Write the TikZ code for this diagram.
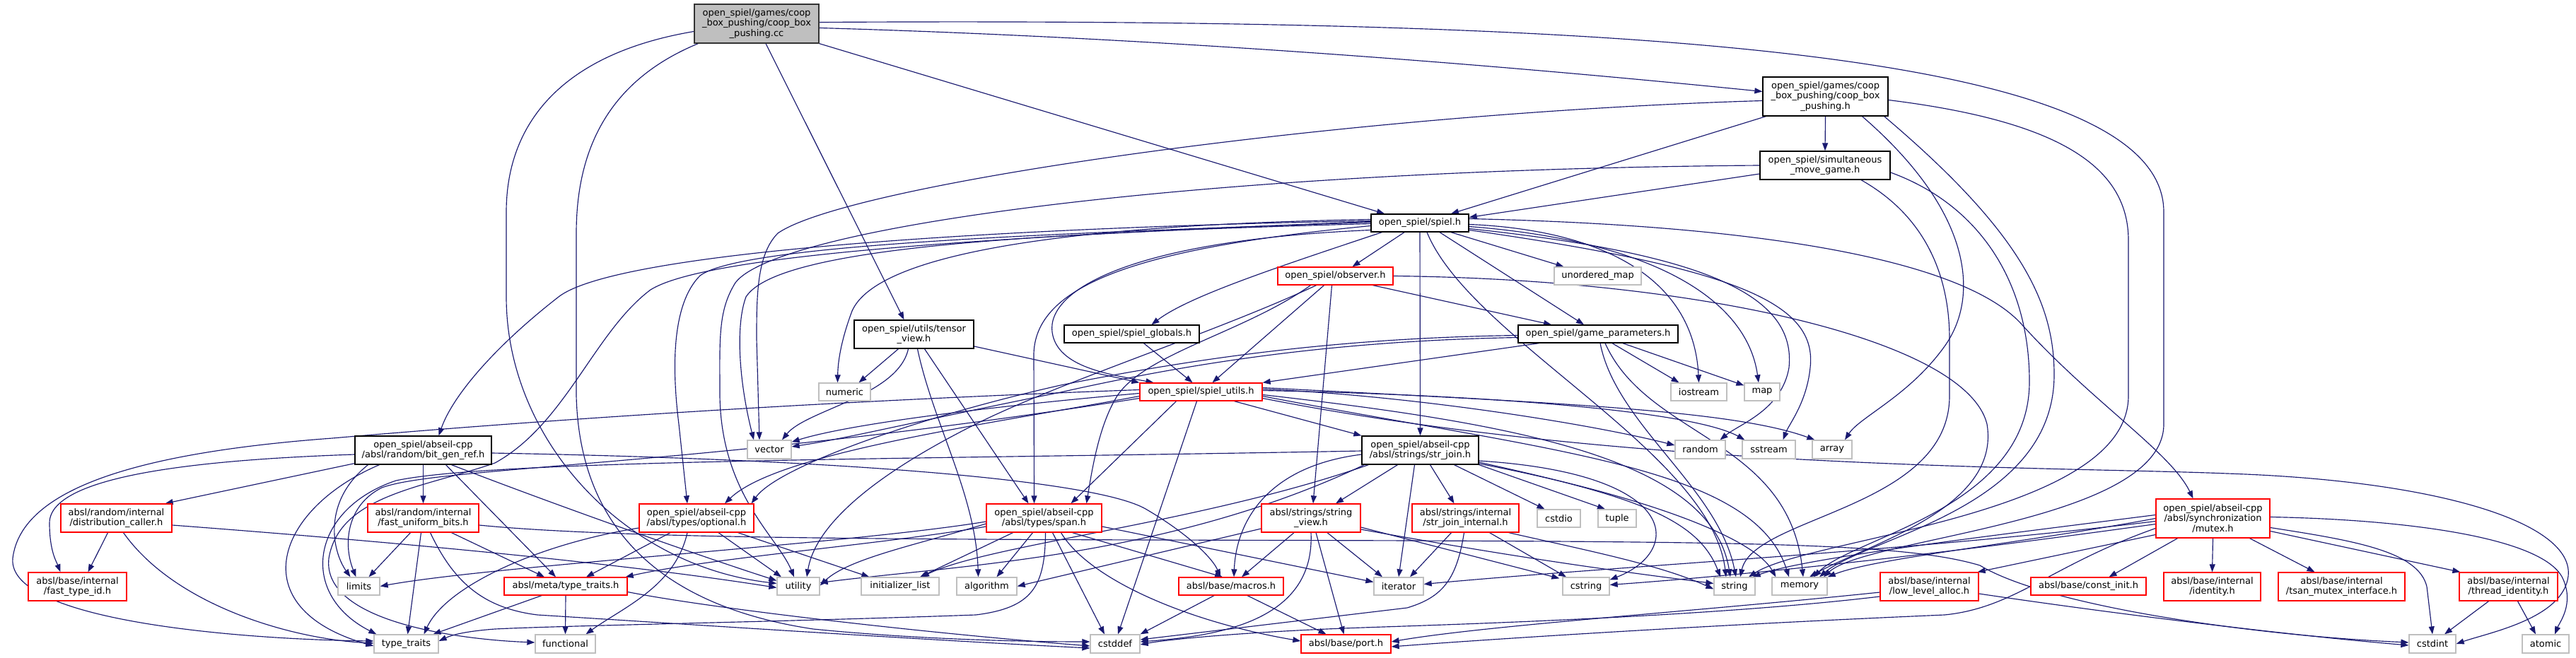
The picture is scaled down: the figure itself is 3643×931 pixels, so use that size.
\documentclass[tikz,border=0pt]{standalone}
\usepackage{fontspec}
\setmainfont{DejaVu Sans}
\usetikzlibrary{arrows.meta,calc,backgrounds}
\definecolor{edgeblue}{HTML}{191970}
\definecolor{greyb}{HTML}{BFBFBF}
\definecolor{boxred}{HTML}{FF0000}
\tikzset{
  box/.style={draw, line width=1.3pt, fill=white, inner sep=0pt, align=center, font=\fontsize{13}{14.5}\selectfont},
  docbox/.style={box, draw=black},
  redbox/.style={box, draw=boxred},
  stdbox/.style={box, draw=greyb},
  mainbox/.style={box, draw=black!80, fill=greyb},
  e/.style={draw=edgeblue, line width=1.15pt, -{Triangle[length=11pt,width=8pt]}},
}
\begin{document}
\begin{tikzpicture}[x=1pt,y=-1pt]
\useasboundingbox (0,0) rectangle (3643,931);
% ---------------- nodes ----------------
\node[mainbox, minimum width=176, minimum height=55] (cc) at (1070,33.5) {open\_spiel/games/coop\\\_box\_pushing/coop\_box\\\_pushing.cc};
\node[docbox, minimum width=177, minimum height=55] (cbph) at (2581.5,136.5) {open\_spiel/games/coop\\\_box\_pushing/coop\_box\\\_pushing.h};
\node[docbox, minimum width=184, minimum height=40] (smg) at (2581,234) {open\_spiel/simultaneous\\\_move\_game.h};
\node[docbox, minimum width=138, minimum height=25] (spiel) at (2008,315.5) {open\_spiel/spiel.h};
\node[redbox, minimum width=163, minimum height=25] (observer) at (1888.5,390.5) {open\_spiel/observer.h};
\node[stdbox, minimum width=123, minimum height=25] (umap) at (2259.5,390.5) {unordered\_map};
\node[docbox, minimum width=169, minimum height=40] (tensor) at (1292.5,473) {open\_spiel/utils/tensor\\\_view.h};
\node[docbox, minimum width=191, minimum height=25] (globals) at (1600.5,472.5) {open\_spiel/spiel\_globals.h};
\node[docbox, minimum width=226, minimum height=25] (gparams) at (2260,472.5) {open\_spiel/game\_parameters.h};
\node[stdbox, minimum width=73, minimum height=25] (numeric) at (1194.5,554.5) {numeric};
\node[redbox, minimum width=173, minimum height=25] (sutils) at (1698.5,554.5) {open\_spiel/spiel\_utils.h};
\node[stdbox, minimum width=79, minimum height=25] (iostream) at (2402.5,554.5) {iostream};
\node[stdbox, minimum width=50, minimum height=25] (map) at (2492,554.5) {map};
\node[docbox, minimum width=165, minimum height=40] (strjoin) at (2008.5,637) {open\_spiel/abseil-cpp\\/absl/strings/str\_join.h};
\node[stdbox, minimum width=71, minimum height=26] (random) at (2404.5,636) {random};
\node[stdbox, minimum width=75, minimum height=26] (sstream) at (2501.5,636) {sstream};
\node[stdbox, minimum width=56, minimum height=26] (array) at (2591,636) {array};
\node[stdbox, minimum width=62, minimum height=26] (vector) at (1088,636) {vector};
\node[docbox, minimum width=193, minimum height=40] (bitgen) at (598.5,637) {open\_spiel/abseil-cpp\\/absl/random/bit\_gen\_ref.h};
\node[redbox, minimum width=157, minimum height=40] (distcall) at (164.5,733) {absl/random/internal\\/distribution\_caller.h};
\node[redbox, minimum width=157, minimum height=40] (fub) at (598.5,733) {absl/random/internal\\/fast\_uniform\_bits.h};
\node[redbox, minimum width=162, minimum height=40] (optional) at (985,733) {open\_spiel/abseil-cpp\\/absl/types/optional.h};
\node[redbox, minimum width=163, minimum height=40] (span) at (1476.5,733) {open\_spiel/abseil-cpp\\/absl/types/span.h};
\node[redbox, minimum width=140, minimum height=40] (sview) at (1854,733) {absl/strings/string\\\_view.h};
\node[redbox, minimum width=151, minimum height=40] (sjint) at (2072.5,733) {absl/strings/internal\\/str\_join\_internal.h};
\node[stdbox, minimum width=61, minimum height=25] (cstdio) at (2204.5,733.5) {cstdio};
\node[stdbox, minimum width=54, minimum height=25] (tuple) at (2287,733.5) {tuple};
\node[redbox, minimum width=161, minimum height=55] (mutex) at (3129.5,733.5) {open\_spiel/abseil-cpp\\/absl/synchronization\\/mutex.h};
\node[redbox, minimum width=139, minimum height=40] (ftid) at (109.5,830) {absl/base/internal\\/fast\_type\_id.h};
\node[stdbox, minimum width=59, minimum height=25] (limits) at (507.5,829.5) {limits};
\node[redbox, minimum width=174, minimum height=25] (mtt) at (800,829.5) {absl/meta/type\_traits.h};
\node[stdbox, minimum width=60, minimum height=25] (utility) at (1129,829.5) {utility};
\node[stdbox, minimum width=110, minimum height=25] (initlist) at (1273,829.5) {initializer\_list};
\node[stdbox, minimum width=85, minimum height=25] (algorithm) at (1395.5,829.5) {algorithm};
\node[redbox, minimum width=148, minimum height=25] (macros) at (1741,829.5) {absl/base/macros.h};
\node[stdbox, minimum width=70, minimum height=25] (iterator) at (1978,829.5) {iterator};
\node[stdbox, minimum width=66, minimum height=25] (cstring) at (2243,829.5) {cstring};
\node[stdbox, minimum width=58, minimum height=25] (string) at (2453,829.5) {string};
\node[stdbox, minimum width=78, minimum height=25] (memory) at (2545,829.5) {memory};
\node[redbox, minimum width=139, minimum height=40] (lla) at (2728.5,830) {absl/base/internal\\/low\_level\_alloc.h};
\node[redbox, minimum width=163, minimum height=25] (constinit) at (2953.5,829.5) {absl/base/const\_init.h};
\node[redbox, minimum width=137, minimum height=40] (identity) at (3128.5,830) {absl/base/internal\\/identity.h};
\node[redbox, minimum width=179, minimum height=40] (tsan) at (3311.5,830) {absl/base/internal\\/tsan\_mutex\_interface.h};
\node[redbox, minimum width=139, minimum height=40] (tid) at (3547.5,830) {absl/base/internal\\/thread\_identity.h};
\node[stdbox, minimum width=91, minimum height=26] (typetraits) at (574.5,911) {type\_traits};
\node[stdbox, minimum width=85, minimum height=26] (functional) at (799.5,911) {functional};
\node[stdbox, minimum width=70, minimum height=26] (cstddef) at (1577,911) {cstddef};
\node[redbox, minimum width=127, minimum height=26] (port) at (1903.5,911) {absl/base/port.h};
\node[stdbox, minimum width=66, minimum height=26] (cstdint) at (3440,911) {cstdint};
\node[stdbox, minimum width=66, minimum height=26] (atomic) at (3600,911) {atomic};
% ---------------- edges ----------------
\begin{scope}[on background layer]
\fill[white] (0,0) rectangle (3643,931);
% coop_box_pushing.cc
\draw[e] ($(cc.east)+(0,6)$) .. controls (1700,55) and (2200,100) .. ($(cbph.west)+(0,-7)$);
\draw[e] (cc.south east) -- ($(spiel.north)+(-50,0)$);
\draw[e] ($(cc.south)+(13,0)$) -- ($(tensor.north)+(-14,0)$);
\draw[e] ($(cc.east)+(0,-2)$) .. controls (2300,25) and (3060,70) .. (3060,300) -- (3060,600) .. controls (3060,740) and (2640,760) .. ($(memory.north)+(34,0)$);
\draw[e] ($(cc.west)+(0,11)$) .. controls (800,75) and (716,170) .. (716,300) -- (716,420) .. controls (716,620) and (880,800) .. ($(utility.west)+(0,-4)$);
\draw[e] ($(cc.south west)+(6,0)$) .. controls (870,110) and (815,200) .. (815,330) -- (815,560) .. controls (820,760) and (950,860) .. (1150,890) .. controls (1300,905) and (1450,908) .. ($(cstddef.west)+(0,-3)$);
% coop_box_pushing.h
\draw[e] (cbph.south) -- (smg.north);
\draw[e] ($(cbph.south west)+(5,0)$) -- ($(spiel.north)+(44,0)$);
\draw[e] ($(cbph.west)+(0,6)$) .. controls (1900,160) and (1200,260) .. (1100,330) .. controls (1070,360) and (1070,420) .. (1070,480) -- ($(vector.north)+(-14,0)$);
\draw[e] ($(cbph.south)+(52,0)$) .. controls (2790,300) and (2800,420) .. (2750,490) .. controls (2700,560) and (2630,590) .. ($(array.north)+(18,0)$);
\draw[e] ($(cbph.south east)+(-6,0)$) .. controls (2860,330) and (2905,430) .. (2905,530) .. controls (2905,720) and (2640,760) .. ($(memory.north)+(28,0)$);
\draw[e] ($(cbph.east)+(0,5)$) .. controls (2900,170) and (3010,230) .. (3010,340) -- (3010,560) .. controls (3010,730) and (2560,760) .. ($(string.north)+(20,0)$);
% simultaneous_move_game.h
\draw[e] ($(smg.west)+(0,12)$) -- ($(spiel.east)+(0,-8)$);
\draw[e] (smg.west) .. controls (1700,240) and (1100,320) .. (1040,400) .. controls (1015,440) and (1018,480) .. (1018,560) .. controls (1020,700) and (1100,760) .. ($(utility.north)+(-6,0)$);
\draw[e] ($(smg.south)+(51,0)$) .. controls (2730,310) and (2757,400) .. (2757,480) -- (2757,560) .. controls (2757,720) and (2480,730) .. ($(string.north)+(8,0)$);
\draw[e] ($(smg.east)+(0,10)$) .. controls (2800,290) and (2870,400) .. (2870,540) .. controls (2870,720) and (2620,760) .. ($(memory.north)+(20,0)$);
% spiel.h
\draw[e] ($(spiel.south)+(-22,0)$) -- ($(observer.north)+(24,0)$);
\draw[e] ($(spiel.south)+(44,0)$) -- ($(umap.north)+(-48,0)$);
\draw[e] ($(spiel.south)+(28,0)$) -- ($(gparams.north)+(-20,0)$);
\draw[e] ($(spiel.south west)+(16,0)$) .. controls (1800,380) and (1680,420) .. ($(globals.north)+(28,0)$);
\draw[e] (spiel.south) -- (strjoin.north);
\draw[e] ($(spiel.west)+(0,10)$) .. controls (1600,340) and (1480,410) .. (1488,470) .. controls (1495,520) and (1570,530) .. ($(sutils.north)+(-67,0)$);
\draw[e] ($(spiel.east)+(0,2)$) .. controls (2260,325) and (2395,390) .. (iostream.north);
\draw[e] ($(spiel.east)+(0,5)$) .. controls (2330,340) and (2470,420) .. ($(map.north)+(-5,0)$);
\draw[e] ($(spiel.east)+(0,8)$) .. controls (2420,360) and (2540,420) .. (2530,520) .. controls (2520,580) and (2460,600) .. ($(random.north)+(28,0)$);
\draw[e] ($(spiel.east)+(0,10)$) .. controls (2460,380) and (2570,430) .. (2560,520) .. controls (2555,570) and (2530,600) .. ($(sstream.north)+(20,0)$);
\draw[e] ($(spiel.south)+(10,0)$) .. controls (2080,480) and (2420,640) .. ($(string.north)+(-12,0)$);
\draw[e] ($(spiel.east)+(0,-6)$) .. controls (2550,320) and (2790,380) .. (2860,460) .. controls (2960,570) and (3070,640) .. ($(mutex.north)+(-28,0)$);
\draw[e] ($(spiel.west)+(0,-3)$) .. controls (1500,320) and (880,350) .. (790,420) .. controls (700,490) and (640,560) .. ($(bitgen.north)+(22,0)$);
\draw[e] ($(spiel.west)+(0,-1)$) .. controls (1500,330) and (1050,345) .. (990,390) .. controls (950,430) and (950,520) .. (960,600) -- ($(optional.north)+(-13,0)$);
\draw[e] ($(spiel.west)+(0,4)$) .. controls (1620,350) and (1465,400) .. (1462,500) -- ($(span.north)+(-14,0)$);
\draw[e] ($(spiel.west)+(0,-5)$) .. controls (1500,318) and (1240,360) .. (1205,440) .. controls (1190,480) and (1185,510) .. ($(numeric.north)+(-10,0)$);
\draw[e] ($(spiel.west)+(0,1)$) .. controls (1450,330) and (1100,350) .. (1055,420) .. controls (1040,460) and (1045,540) .. ($(vector.north)+(-22,0)$);
\draw[e] ($(spiel.west)+(0,-2)$) .. controls (1400,335) and (1000,360) .. (920,410) .. controls (840,470) and (800,600) .. (700,655) .. controls (600,690) and (480,700) .. (465,790) .. controls (455,880) and (650,905) .. ($(functional.west)+(0,-2)$);
% observer.h
\draw[e] ($(observer.south)+(53,0)$) -- ($(gparams.north)+(-66,0)$);
\draw[e] ($(observer.south)+(-16,0)$) -- ($(sutils.north)+(16,0)$);
\draw[e] ($(observer.south)+(-5,0)$) -- ($(sview.north)+(3,0)$);
\draw[e] ($(observer.south)+(-35,0)$) .. controls (1760,470) and (1620,500) .. (1580,560) .. controls (1555,600) and (1545,660) .. ($(span.north)+(60,0)$);
\draw[e] ($(observer.south)+(-27,0)$) .. controls (1720,470) and (1500,540) .. (1380,600) .. controls (1200,690) and (1150,760) .. ($(utility.north)+(12,0)$);
\draw[e] (observer.east) .. controls (2400,395) and (2780,480) .. (2810,600) .. controls (2830,720) and (2640,770) .. ($(memory.north)+(14,0)$);
% tensor_view.h
\draw[e] ($(tensor.south)+(-22,0)$) -- ($(numeric.north)+(20,0)$);
\draw[e] ($(tensor.east)+(0,17)$) -- (sutils.north west);
\draw[e] ($(tensor.south)+(15,0)$) -- ($(span.north)+(-22,0)$);
\draw[e] ($(tensor.south)+(5,0)$) .. controls (1320,600) and (1380,700) .. ($(algorithm.north)+(-12,0)$);
\draw[e] ($(tensor.south)+(-8,0)$) .. controls (1270,560) and (1140,580) .. ($(vector.north)+(18,0)$);
% spiel_globals.h
\draw[e] ($(globals.south)+(17,0)$) -- ($(sutils.north)+(-12,0)$);
% game_parameters.h
\draw[e] ($(gparams.south west)+(30,0)$) -- (sutils.north east);
\draw[e] ($(gparams.west)+(0,2)$) .. controls (1900,478) and (1700,505) .. (1500,545) .. controls (1300,590) and (1100,660) .. ($(optional.north east)+(-4,0)$);
\draw[e] ($(gparams.west)+(0,5)$) .. controls (1900,482) and (1700,510) .. (1500,555) .. controls (1300,595) and (1200,620) .. ($(vector.east)+(0,-4)$);
\draw[e] ($(gparams.south)+(20,0)$) -- ($(iostream.north)+(-28,0)$);
\draw[e] ($(gparams.south)+(35,0)$) -- ($(map.north west)+(0,4)$);
\draw[e] ($(gparams.south)+(3,0)$) .. controls (2285,600) and (2430,690) .. ($(string.north)+(2,0)$);
\draw[e] ($(gparams.south)+(10,0)$) .. controls (2330,620) and (2530,620) .. ($(memory.north)+(5,0)$);
% spiel_utils.h
\draw[e] ($(sutils.south)+(47,0)$) -- (strjoin.north west);
\draw[e] ($(sutils.south)+(-35,0)$) -- ($(span.north)+(38,0)$);
\draw[e] ($(sutils.west)+(0,6)$) .. controls (1400,600) and (1100,640) .. ($(optional.north)+(40,0)$);
\draw[e] ($(sutils.west)+(0,2)$) .. controls (1400,575) and (1200,600) .. ($(vector.north east)+(0,3)$);
\draw[e] ($(sutils.south)+(-6,0)$) -- ($(cstddef.north)+(4,0)$);
\draw[e] ($(sutils.west)+(0,-3)$) .. controls (1100,570) and (700,600) .. (470,620) .. controls (200,640) and (30,690) .. (18,790) .. controls (10,880) and (350,905) .. ($(typetraits.west)+(0,-4)$);
\draw[e] ($(sutils.west)+(0,9)$) .. controls (1000,660) and (620,660) .. (540,690) .. controls (490,715) and (485,770) .. ($(limits.north)+(-4,0)$);
\draw[e] ($(sutils.east)+(0,-4)$) .. controls (2000,560) and (2250,600) .. ($(random.west)+(0,-6)$);
\draw[e] ($(sutils.east)+(0,-2)$) .. controls (2150,560) and (2400,585) .. ($(sstream.north west)+(4,0)$);
\draw[e] ($(sutils.east)+(0,-6)$) .. controls (2200,570) and (2450,580) .. ($(array.north west)+(4,0)$);
\draw[e] ($(sutils.east)+(0,4)$) .. controls (2150,600) and (2420,650) .. ($(string.north)+(-6,0)$);
\draw[e] ($(sutils.east)+(0,6)$) .. controls (2200,640) and (2480,660) .. ($(memory.north)+(-15,0)$);
\draw[e] ($(sutils.east)+(0,9)$) .. controls (2300,665) and (2900,660) .. (3150,670) .. controls (3450,680) and (3640,740) .. (3632,815) .. controls (3625,875) and (3520,895) .. (cstdint.east);
% str_join.h
\draw[e] ($(strjoin.south)+(-32,0)$) -- ($(sview.north)+(35,0)$);
\draw[e] ($(strjoin.south)+(-8,0)$) -- (iterator.north);
\draw[e] ($(strjoin.south)+(14,0)$) -- ($(sjint.north)+(-16,0)$);
\draw[e] ($(strjoin.south)+(48,0)$) -- ($(cstdio.north)+(-20,0)$);
\draw[e] (strjoin.south east) -- ($(tuple.north)+(-17,0)$);
\draw[e] ($(strjoin.west)+(0,6)$) .. controls (1790,660) and (1748,740) .. ($(macros.north)+(4,0)$);
\draw[e] ($(strjoin.east)+(0,15)$) .. controls (2380,670) and (2380,780) .. ($(cstring.north east)+(0,4)$);
\draw[e] ($(strjoin.east)+(0,17)$) .. controls (2300,700) and (2400,730) .. ($(string.north)+(-20,0)$);
\draw[e] ($(strjoin.east)+(0,19)$) .. controls (2320,700) and (2480,760) .. ($(memory.north west)+(6,0)$);
\draw[e] ($(strjoin.west)+(0,1)$) .. controls (1300,650) and (700,650) .. (560,680) .. controls (440,720) and (420,840) .. ($(typetraits.north west)+(4,0)$);
\draw[e] ($(strjoin.south west)+(4,0)$) .. controls (1650,790) and (1350,800) .. ($(utility.east)+(0,-5)$);
\draw[e] ($(strjoin.south west)+(10,0)$) .. controls (1700,740) and (1400,770) .. ($(initlist.north)+(30,0)$);
% string_view.h
\draw[e] ($(sview.south)+(-24,0)$) -- ($(macros.north)+(15,0)$);
\draw[e] ($(sview.south)+(7,0)$) -- ($(port.north)+(-3,0)$);
\draw[e] ($(sview.south)+(23,0)$) -- ($(iterator.north)+(-23,0)$);
\draw[e] (sview.south) .. controls (1860,880) and (1720,900) .. ($(cstddef.east)+(0,-3)$);
\draw[e] ($(sview.west)+(0,15)$) -- (algorithm.east);
\draw[e] ($(sview.east)+(0,13)$) -- ($(cstring.north west)+(-4,2)$);
\draw[e] ($(sview.east)+(0,16)$) .. controls (2150,790) and (2300,810) .. ($(string.west)+(0,-4)$);
% str_join_internal.h
\draw[e] ($(sjint.south)+(-20,0)$) -- ($(iterator.north)+(16,0)$);
\draw[e] ($(sjint.south)+(34,0)$) -- ($(cstring.north)+(-28,0)$);
\draw[e] ($(sjint.south east)+(-15,0)$) .. controls (2250,780) and (2350,800) .. ($(string.west)+(0,4)$);
\draw[e] ($(sjint.south)+(-2,0)$) .. controls (2060,820) and (2040,845) .. (1990,860) -- ($(cstddef.east)+(0,-6)$);
% span.h
\draw[e] ($(span.south)+(-44,0)$) -- ($(initlist.north)+(28,0)$);
\draw[e] ($(span.south)+(-16,0)$) -- ($(algorithm.north)+(14,0)$);
\draw[e] ($(span.south)+(12,0)$) -- ($(cstddef.north)+(-15,0)$);
\draw[e] ($(span.south)+(24,0)$) .. controls (1540,820) and (1680,880) .. ($(port.west)+(0,-4)$);
\draw[e] ($(span.south)+(40,0)$) -- ($(macros.north)+(-12,0)$);
\draw[e] ($(span.east)+(0,12)$) -- ($(iterator.west)+(0,-6)$);
\draw[e] ($(span.west)+(0,8)$) .. controls (1300,770) and (1200,790) .. ($(utility.east)+(0,-1)$);
\draw[e] ($(span.south)+(2,0)$) .. controls (1478,830) and (1460,860) .. (1380,870) .. controls (1100,880) and (800,885) .. (700,890) .. controls (660,893) and (640,898) .. ($(typetraits.east)+(0,-4)$);
\draw[e] ($(span.west)+(0,12)$) .. controls (1250,770) and (1000,790) .. ($(mtt.north east)+(-3,0)$);
\draw[e] ($(span.west)+(0,5)$) .. controls (1200,770) and (700,800) .. (limits.east);
% optional.h
\draw[e] ($(optional.south)+(-37,0)$) -- ($(mtt.north)+(29,0)$);
\draw[e] ($(optional.west)+(0,14)$) .. controls (760,770) and (630,830) .. ($(typetraits.north)+(25,0)$);
\draw[e] ($(optional.south)+(-13,0)$) .. controls (955,830) and (880,860) .. ($(functional.north)+(29,0)$);
\draw[e] ($(optional.south)+(31,0)$) -- ($(utility.north)+(-24,0)$);
\draw[e] ($(optional.south east)+(-23,0)$) -- ($(initlist.north west)+(12,0)$);
% absl/meta/type_traits.h
\draw[e] ($(mtt.south)+(-34,0)$) -- ($(typetraits.north)+(38,0)$);
\draw[e] (mtt.south) -- (functional.north);
\draw[e] ($(mtt.east)+(0,8)$) .. controls (1000,860) and (1300,895) .. ($(cstddef.west)+(0,3)$);
% bit_gen_ref.h
\draw[e] ($(bitgen.south west)+(0,-2)$) -- ($(distcall.north east)+(-10,0)$);
\draw[e] (bitgen.south) -- (fub.north);
\draw[e] ($(bitgen.west)+(0,6)$) .. controls (300,650) and (70,670) .. (70,740) .. controls (70,780) and (80,795) .. ($(ftid.north)+(-24,0)$);
\draw[e] ($(bitgen.south)+(-78,0)$) .. controls (455,710) and (470,780) .. ($(limits.north)+(-12,0)$);
\draw[e] ($(bitgen.south)+(-62,0)$) .. controls (390,720) and (340,860) .. ($(typetraits.west)+(0,3)$);
\draw[e] ($(bitgen.south)+(32,0)$) -- ($(mtt.north)+(-14,0)$);
\draw[e] ($(bitgen.south)+(40,0)$) .. controls (800,720) and (1000,790) .. ($(utility.west)+(0,-8)$);
\draw[e] ($(bitgen.east)+(0,4)$) .. controls (1200,650) and (1550,680) .. (1620,720) .. controls (1680,755) and (1715,790) .. ($(macros.north)+(-15,0)$);
% distribution_caller.h
\draw[e] ($(distcall.south)+(-12,0)$) -- ($(ftid.north)+(15,0)$);
\draw[e] ($(distcall.south)+(10,0)$) .. controls (250,860) and (420,905) .. ($(typetraits.west)+(0,-1)$);
\draw[e] ($(distcall.east)+(0,10)$) .. controls (600,770) and (900,800) .. ($(utility.west)+(0,2)$);
% fast_uniform_bits.h
\draw[e] ($(fub.south)+(-18,0)$) -- ($(limits.north)+(14,0)$);
\draw[e] ($(fub.south)+(-3,0)$) -- ($(typetraits.north)+(2,0)$);
\draw[e] ($(fub.south)+(40,0)$) -- ($(mtt.north)+(-30,0)$);
\draw[e] ($(fub.east)+(0,10)$) .. controls (900,765) and (1400,763) .. (2000,765) .. controls (2500,767) and (2700,770) .. (2800,800) .. controls (2900,860) and (3200,900) .. ($(cstdint.west)+(0,-2)$);
\draw[e] ($(fub.south)+(10,0)$) .. controls (640,820) and (680,860) .. (760,870) .. controls (1000,885) and (1300,905) .. ($(cstddef.west)+(0,6)$);
% macros.h
\draw[e] ($(macros.south)+(-24,0)$) -- (cstddef.north east);
\draw[e] ($(macros.south)+(23,0)$) -- ($(port.north)+(-28,0)$);
% mutex.h
\draw[e] ($(mutex.west)+(0,23)$) -- ($(lla.north east)+(-2,0)$);
\draw[e] ($(mutex.south)+(-50,0)$) -- ($(constinit.north)+(29,0)$);
\draw[e] (mutex.south) -- (identity.north);
\draw[e] ($(mutex.south)+(52,0)$) -- ($(tsan.north)+(-38,0)$);
\draw[e] ($(mutex.east)+(0,18)$) -- ($(tid.north west)+(2,0)$);
\draw[e] ($(mutex.east)+(0,13)$) .. controls (3330,765) and (3420,780) .. (3432,830) -- (cstdint.north);
\draw[e] ($(mutex.east)+(0,-2)$) .. controls (3400,735) and (3600,760) .. (3625,820) .. controls (3640,855) and (3620,880) .. ($(atomic.north)+(13,0)$);
\draw[e] ($(mutex.west)+(0,-5)$) .. controls (2800,760) and (2550,790) .. ($(string.north east)+(-4,0)$);
\draw[e] (mutex.west) .. controls (2850,770) and (2650,790) .. (memory.north east);
\draw[e] ($(mutex.west)+(0,4)$) .. controls (2700,780) and (2300,800) .. ($(iterator.east)+(0,-3)$);
\draw[e] ($(mutex.west)+(0,8)$) .. controls (2700,790) and (2450,815) .. ($(cstring.east)+(0,-2)$);
\draw[e] ($(mutex.west)+(0,14)$) .. controls (2900,800) and (2850,860) .. (2750,870) .. controls (2400,885) and (2100,905) .. ($(port.east)+(0,4)$);
% low_level_alloc.h
\draw[e] ($(lla.east)+(0,10)$) .. controls (3000,870) and (3250,900) .. ($(cstdint.west)+(0,2)$);
\draw[e] ($(lla.west)+(0,8)$) .. controls (2400,865) and (2100,885) .. ($(port.east)+(0,-3)$);
\draw[e] ($(lla.west)+(0,14)$) .. controls (2400,875) and (2000,885) .. (1900,889) .. controls (1750,895) and (1650,905) .. ($(cstddef.east)+(0,1)$);
% thread_identity.h
\draw[e] ($(tid.south)+(-28,0)$) -- ($(cstdint.north)+(17,0)$);
\draw[e] ($(tid.south)+(13,0)$) -- ($(atomic.north)+(-14,0)$);
\end{scope}
\end{tikzpicture}
\end{document}
